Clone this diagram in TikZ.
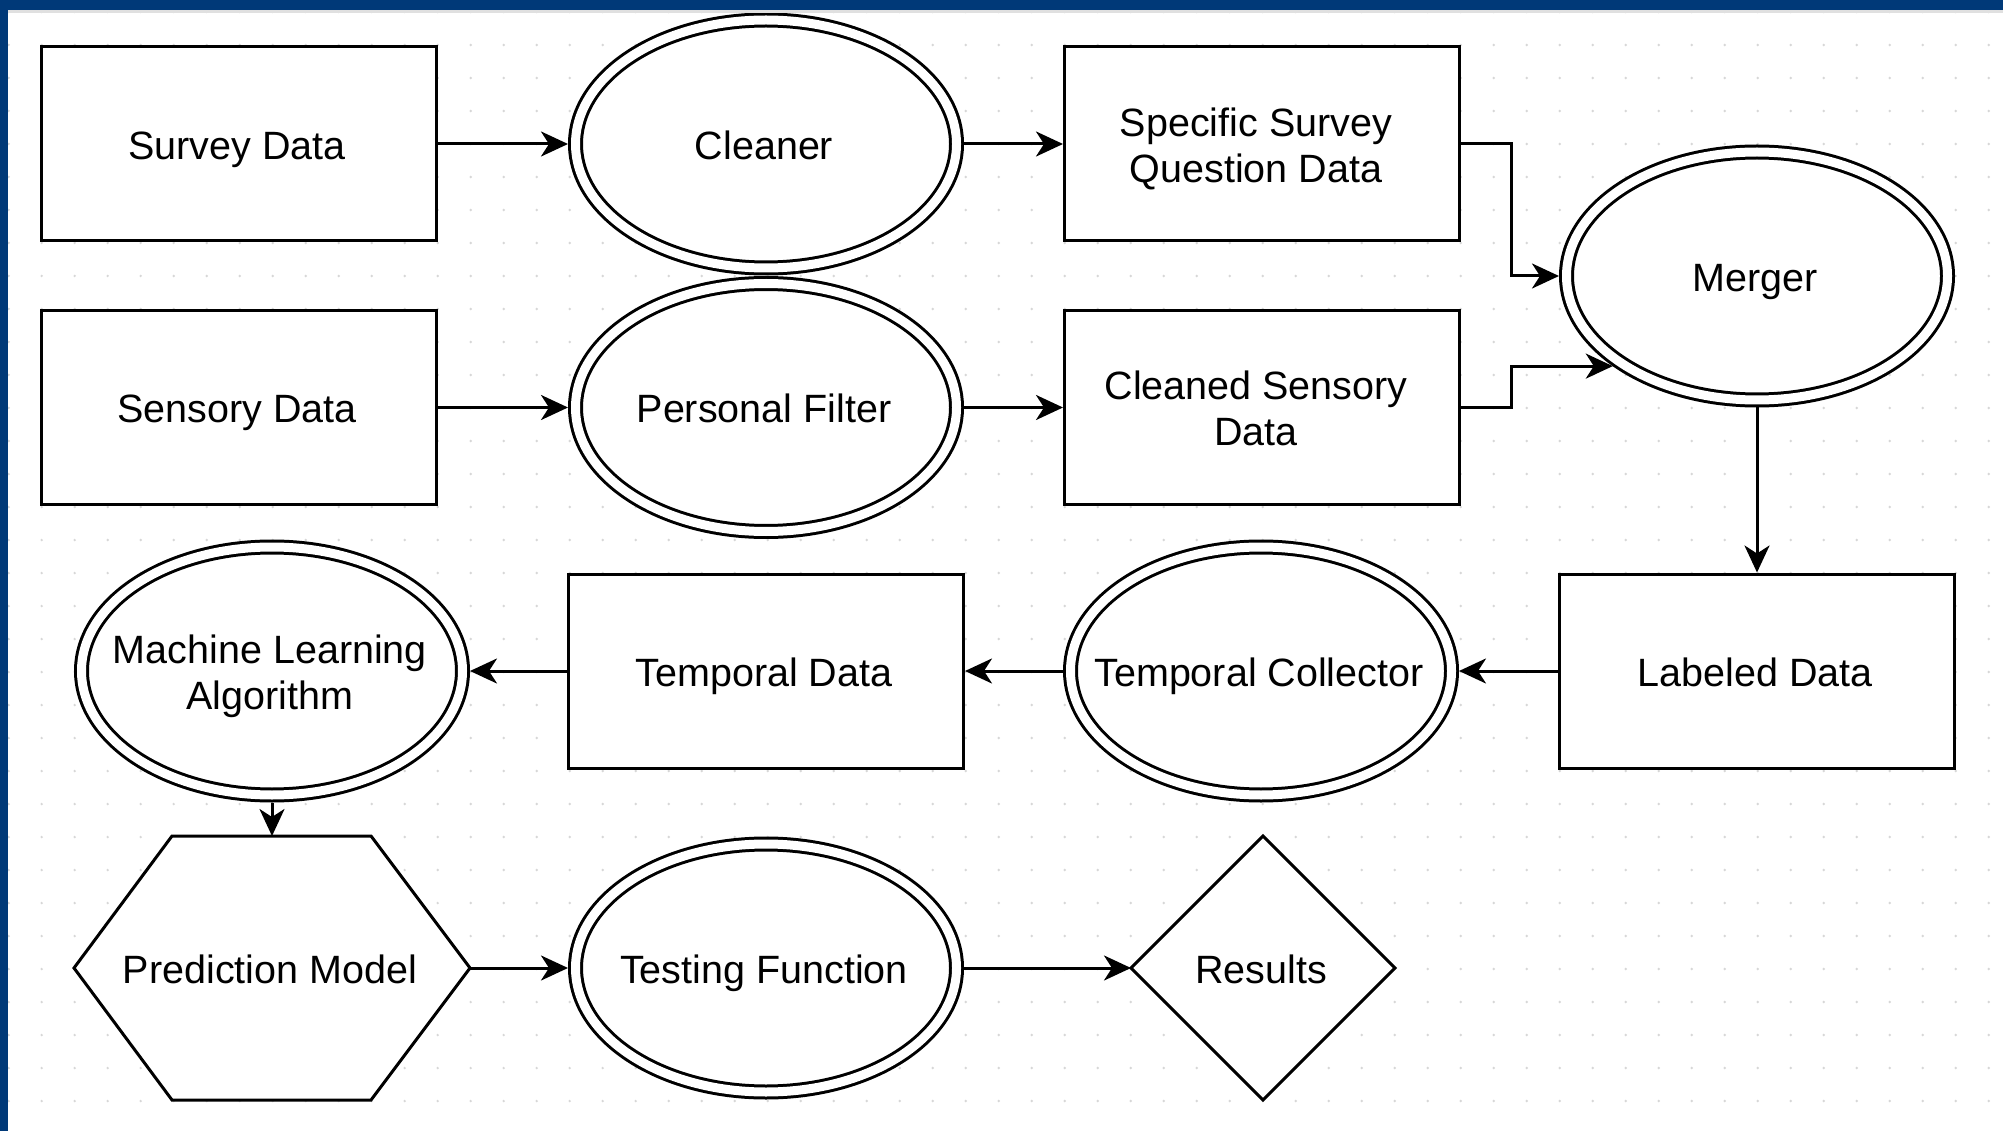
\documentclass[tikz,border=0pt]{standalone}
\usepackage{fontspec}
\setmainfont{Liberation Sans}
\usetikzlibrary{arrows.meta,calc,shapes.geometric}
\pgfdeclarelayer{bg}
\pgfdeclarelayer{shp}
\pgfsetlayers{bg,shp,main}
\definecolor{frameblue}{RGB}{0,57,120}
\definecolor{dotc}{RGB}{215,215,215}
% label: #1 vertical raise, #2 horizontal offset, #3 text
\newcommand{\lbl}[3]{\raisebox{#1}[0pt][0pt]{\hbox to 0pt{\hskip #2\hbox to 0pt{\hss\begin{tabular}[t]{@{}c@{}}#3\end{tabular}\hss}\hss}}}
\newcommand{\one}[1]{\lbl{-15.5pt}{-2pt}{#1}}
\newcommand{\two}[1]{\lbl{7.5pt}{-2pt}{#1}}
\newcommand{\twoL}[1]{\lbl{7.5pt}{-6pt}{#1}}
\begin{document}
\begin{tikzpicture}[x=1pt,y=-1pt,
  every node/.style={font=\fontsize{39.5}{46}\selectfont},
  base/.style={line width=3pt, fill=white, draw=black, line join=miter},
  boxnode/.style={base, rectangle, minimum width=395pt, minimum height=194pt, inner sep=0pt},
  dell/.style={ellipse, draw=black, fill=white, line width=3pt, double=white, double distance=9pt, minimum width=381pt, minimum height=248pt, inner sep=0pt, outer sep=7.5pt},
  shapeanchor/.style={rectangle, minimum width=396pt, minimum height=264pt, inner sep=0pt, outer sep=0pt},
  conn/.style={line width=3pt, -{Stealth[length=27pt,width=25pt,inset=8pt]}}
]
\useasboundingbox (0,0) rectangle (2003,1131);
\begin{pgfonlayer}{bg}
\fill[white] (0,0) rectangle (2003,1131);
\foreach \i in {0,...,60} {
  \foreach \j in {0,...,34} {
    \fill[dotc] (8.7+33*\i, 12+33*\j) circle (1.3pt);
  }
}
\end{pgfonlayer}

% row 1
\node[boxnode] (sd) at (239,144) {\one{Survey Data}};
\node[dell] (cl) at (766,144) {\one{Cleaner}};
\node[boxnode] (sq) at (1262,144) {\twoL{Specific Survey\\Question Data}};
\node[dell] (mg) at (1757,276) {\one{Merger}};
% row 2
\node[boxnode] (sn) at (239,407.5) {\one{Sensory Data}};
\node[dell] (pf) at (766,407.5) {\one{Personal Filter}};
\node[boxnode] (cs) at (1262,407.5) {\twoL{Cleaned Sensory\\Data}};
% row 3
\node[dell] (ml) at (272,671) {\two{Machine Learning\\Algorithm}};
\node[boxnode] (td) at (766,671) {\one{Temporal Data}};
\node[dell] (tc) at (1261,671) {\one{Temporal Collector}};
\node[boxnode] (ld) at (1757,671) {\one{Labeled Data}};
% row 4
\node[shapeanchor] (pm) at (272,968) {\one{Prediction Model}};
\node[dell] (tf) at (766,968) {\one{Testing Function}};
\node[shapeanchor, minimum width=264pt] (rs) at (1263,968) {\one{Results}};

\begin{pgfonlayer}{shp}
\draw[base] ([xshift=98pt]pm.north west) -- ([xshift=-99pt]pm.north east) -- (pm.east)
  -- ([xshift=-99pt]pm.south east) -- ([xshift=98pt]pm.south west) -- (pm.west) -- cycle;
\draw[base] (rs.north) -- (rs.east) -- (rs.south) -- (rs.west) -- cycle;
\end{pgfonlayer}

% connectors
\draw[conn] (sd.east) -- (cl.west);
\draw[conn] (cl.east) -- (sq.west);
\draw[conn] (sq.east) -- ++(50,0) |- (mg.west);
\draw[conn] (sn.east) -- (pf.west);
\draw[conn] (pf.east) -- (cs.west);
\draw[conn] (cs.east) -- ++(50,0) |- (mg.212.8);
\draw[conn] (mg.south) -- (ld.north);
\draw[conn] (ld.west) -- (tc.east);
\draw[conn] (tc.west) -- (td.east);
\draw[conn] (td.west) -- (ml.east);
\draw[conn] (ml.south) -- (pm.north);
\draw[conn] (pm.east) -- (tf.west);
\draw[conn] (tf.east) -- (rs.west);

% frame
\fill[black!12] (8,10) rectangle (2003,13);
\fill[frameblue] (0,0) rectangle (2003,10);
\fill[frameblue] (0,0) rectangle (8,1131);
\end{tikzpicture}
\end{document}
